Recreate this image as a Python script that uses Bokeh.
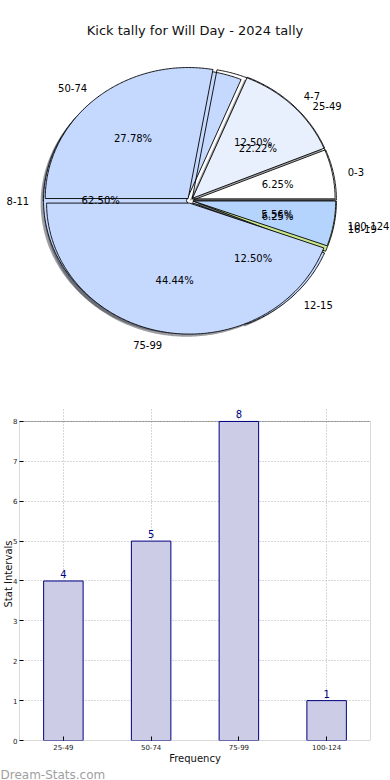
import numpy as np
from bokeh.plotting import figure
from bokeh.models import (Range1d, ColumnDataSource, Label, LabelSet, FactorRange,
                          FixedTicker, BoxAnnotation, Title)
from bokeh.embed import file_html
from bokeh.resources import INLINE
from bokeh.core.properties import value

# ---------------- data ----------------
title_text = "Kick tally for Will Day - 2024 tally"
kick_labels = ["0-3", "4-7", "8-11", "12-15", "16-19"]
kick_counts = [1, 2, 10, 2, 1]
stat_labels = ["25-49", "50-74", "75-99", "100-124"]
stat_counts = [4, 5, 8, 1]
y_ticks = [0, 1, 2, 3, 4, 5, 6, 7, 8]
x_title = "Frequency"
y_title = "Stat Intervals"
watermark = "Dream-Stats.com"

# ---------------- styles ----------------
FONT = "DejaVu Sans"
kick_colors = ["#ffffff", "#e8f0fe", "#c5d8fe", "#c5d8fe", "#c8e68c"]
kick_alpha = [1, 1, 1, 1, 1]
stat_colors = ["#ffffff", "#c5d8fe", "#c5d8fe", "#b4d4fe"]
stat_alpha = [0, 1, 1, 1]
KICK_EXPLODE = 0.025
STAT_EXPLODE = 0.02
PIE_FONT = "10px"


def pie_geometry(counts, explode, radius=1.0):
    c = np.asarray(counts, dtype=float)
    frac = c / c.sum()
    edges = np.concatenate([[0.0], np.cumsum(frac)]) * 2 * np.pi
    xs, ys, mids = [], [], []
    for a0, a1 in zip(edges[:-1], edges[1:]):
        m = 0.5 * (a0 + a1)
        ox, oy = explode * np.cos(m), explode * np.sin(m)
        t = np.linspace(a0, a1, max(6, int((a1 - a0) / 0.01)))
        xs.append(np.concatenate([[ox], ox + radius * np.cos(t), [ox]]))
        ys.append(np.concatenate([[oy], oy + radius * np.sin(t), [oy]]))
        mids.append(m)
    return xs, ys, np.array(mids), frac


def shade(hexcol):
    h = hexcol.lstrip("#")
    r, g, b = (int(h[i:i + 2], 16) for i in (0, 2, 4))
    return "#%02x%02x%02x" % (int(r * 0.3), int(g * 0.3), int(b * 0.3))


# ---------------- pie figure ----------------
p1 = figure(width=390, height=388, x_range=Range1d(-1.326, 1.403),
            y_range=Range1d(-1.435, 1.527), x_axis_type=None, y_axis_type=None,
            output_backend="svg", toolbar_location=None, min_border=0)
p1.grid.visible = False
p1.outline_line_color = None

kx, ky, kmid, kfrac = pie_geometry(kick_counts, KICK_EXPLODE)
sx, sy, smid, sfrac = pie_geometry(stat_counts, STAT_EXPLODE)

# shadows (below every wedge)
sh_x = [x - 0.02 for x in kx] + [x - 0.02 for x in sx]
sh_y = [y - 0.02 for y in ky] + [y - 0.02 for y in sy]
sh_c = [shade(c) for c in kick_colors] + [shade(c) for c in stat_colors]
sh_a = [0.5 * a for a in kick_alpha] + [0.5 * a for a in stat_alpha]
p1.patches(xs=sh_x, ys=sh_y, fill_color=sh_c, fill_alpha=sh_a, line_color=None)

p1.patches(xs=kx, ys=ky, fill_color=kick_colors, fill_alpha=kick_alpha,
           line_color="black", line_width=0.9)
p1.patches(xs=sx, ys=sy, fill_color=stat_colors, fill_alpha=stat_alpha,
           line_color="black", line_width=0.9)


def pie_text(labels, mids, frac, explode):
    lx = (explode + 1.1) * np.cos(mids)
    ly = (explode + 1.1) * np.sin(mids)
    align = ["left" if v > 0 else "right" for v in lx]
    src = ColumnDataSource(dict(x=lx, y=ly, t=labels, a=align))
    p1.text(x="x", y="y", text="t", text_align="a", text_baseline="middle",
            text_font=value(FONT), text_font_size=PIE_FONT, text_color="black", source=src)
    px = (explode + 0.6) * np.cos(mids)
    py = (explode + 0.6) * np.sin(mids)
    pct = ["%.2f%%" % (100 * f) for f in frac]
    src2 = ColumnDataSource(dict(x=px, y=py, t=pct))
    p1.text(x="x", y="y", text="t", text_align="center", text_baseline="middle",
            text_font=value(FONT), text_font_size=PIE_FONT, text_color="black", source=src2)


pie_text(kick_labels, kmid, kfrac, KICK_EXPLODE)
pie_text(stat_labels, smid, sfrac, STAT_EXPLODE)

p1.add_layout(Label(x=0.035, y=1.298, text=title_text, text_align="center",
                    text_baseline="middle", text_font=FONT, text_font_size="13px",
                    text_color="#111111"))

# ---------------- bar figure ----------------
Y_TOP = 8.35  # head-room inside the frame for the value label of the tallest bar
p2 = figure(width=390, height=392, x_range=FactorRange(*stat_labels),
            y_range=Range1d(0, Y_TOP), output_backend="svg", toolbar_location=None,
            min_border_left=19, min_border_right=20, min_border_top=19, min_border_bottom=40)
p2.outline_line_color = None

# axes box from 0 to max tick
p2.add_layout(BoxAnnotation(bottom=y_ticks[0], top=y_ticks[-1], fill_alpha=0,
                            line_color="black", line_width=1, level="underlay"))

p2.vbar(x=stat_labels, top=stat_counts, width=0.45, fill_color="#ccccE6",
        line_color="#000080", line_width=1)

bsrc = ColumnDataSource(dict(x=stat_labels, y=stat_counts, t=[str(v) for v in stat_counts]))
p2.add_layout(LabelSet(x="x", y="y", text="t", source=bsrc, text_align="center",
                       text_baseline="bottom", y_offset=3, text_font=value(FONT),
                       text_font_size="10px", text_color="#000080"))

p2.xgrid.grid_line_color = "#b0b0b0"
p2.xgrid.grid_line_dash = "1 2"
p2.xgrid.bounds = (y_ticks[0], y_ticks[-1])
p2.ygrid.grid_line_color = "#b0b0b0"
p2.ygrid.grid_line_dash = "1 2"

p2.yaxis.ticker = FixedTicker(ticks=y_ticks)
for ax in (p2.xaxis[0], p2.yaxis[0]):
    ax.axis_line_color = None
    ax.major_tick_in = 4
    ax.major_tick_out = 0
    ax.minor_tick_in = 0
    ax.minor_tick_out = 0
    ax.major_tick_line_color = "black"
    ax.major_label_text_font = FONT
    ax.major_label_text_font_size = "7px"
    ax.major_label_text_color = "#222222"
    ax.axis_label_text_font = FONT
    ax.axis_label_text_font_size = "10px"
    ax.axis_label_text_font_style = "normal"
    ax.axis_label_text_color = "#111111"
p2.yaxis.major_label_standoff = 2
p2.yaxis.axis_label = y_title
p2.yaxis.axis_label_standoff = -4
p2.xaxis.major_label_standoff = 3
p2.xaxis.axis_label = x_title
p2.xaxis.axis_label_standoff = 0

p2.add_layout(Title(text=watermark, align="left", offset=-19, standoff=-2,
                    text_font=FONT, text_font_size="12px", text_font_style="normal",
                    text_color="#a0a0a0"), "below")

open("out.html", "w").write(file_html([p1, p2], INLINE))
